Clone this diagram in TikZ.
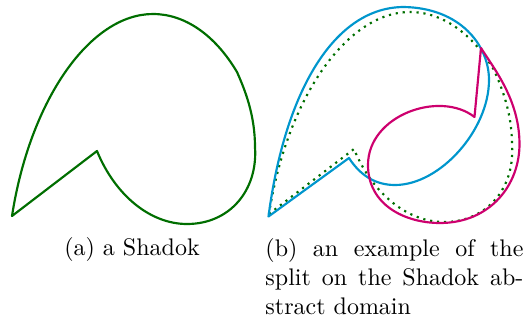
\documentclass[tikz,border=0pt]{standalone}
\usepackage{tikz}
\usepackage{xcolor}
\definecolor{shgreen}{RGB}{0,110,0}
\definecolor{spblue}{RGB}{0,150,205}
\definecolor{spred}{RGB}{205,0,110}

\begin{document}
\begin{tikzpicture}[x=0.41667pt, y=-0.41667pt,
    sh/.style={draw=shgreen, line width=0.9pt, line join=round},
    shd/.style={draw=shgreen, line width=0.9pt, dotted},
    sb/.style={draw=spblue, line width=0.9pt, line join=round},
    sr/.style={draw=spred, line width=0.9pt, line join=round},
    capt/.style={inner sep=0pt, font=\normalsize}
]
\def\shadok{(12,216) -- (97,151)
  .. controls (115,195) and (150,224) .. (187,224)
  .. controls (230,224) and (258,190) .. (255,147)
  .. controls (255,115) and (245,90) .. (237,72)
  .. controls (215,35) and (185,14) .. (153,14)
  .. controls (90,14) and (30,100) .. (12,216) -- cycle}
\useasboundingbox (0,0) rectangle (523,320);
% (a) the Shadok alone
\draw[sh] \shadok;
% (b) the split
\draw[shd, shift={(257,-2)}] \shadok;
\draw[sb] (268.5,216.5) -- (349,158)
  .. controls (360,175) and (375,185) .. (395,185)
  .. controls (440,185) and (489,130) .. (489,80)
  .. controls (489,45) and (460,8) .. (404,7)
  .. controls (335,7) and (285,90) .. (268.5,216.5) -- cycle;
\draw[sr] (481,48) -- (474.5,117)
  .. controls (440,90) and (368,115) .. (368,165)
  .. controls (368,205) and (405,223) .. (440,223)
  .. controls (490,223) and (520,185) .. (519.5,143)
  .. controls (519,100) and (495,70) .. (481,48) -- cycle;
% captions
\node[capt, anchor=base] (capa) at (132,255) {(a) a Shadok};
\node[capt, anchor=north west, text width=107.5pt, align=justify] (capb) at (265,238)
  {(b) an example of the split on the Shadok abstract domain};
\end{tikzpicture}
\end{document}
